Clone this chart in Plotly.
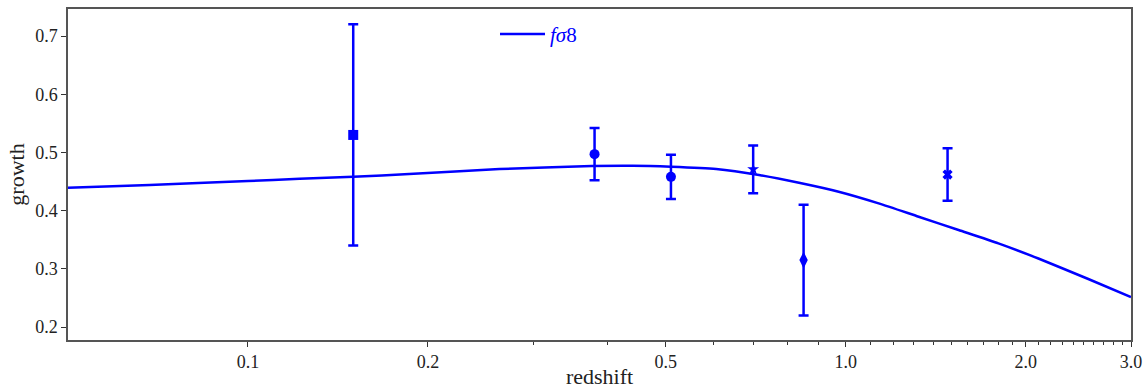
import plotly.graph_objects as go
import numpy as np

# theory curve
curve_z = [0.05, 0.0685, 0.10, 0.122, 0.15, 0.186, 0.2635, 0.376, 0.44, 0.51, 0.607, 0.716, 0.835, 0.973, 1.135, 1.324, 1.544, 1.80, 2.10, 2.545, 3.00]
curve_v = [0.4393, 0.4440, 0.4509, 0.4548, 0.4582, 0.4629, 0.4715, 0.4766, 0.4771, 0.4754, 0.4715, 0.4612, 0.4479, 0.4325, 0.4125, 0.3895, 0.3667, 0.3438, 0.3177, 0.2825, 0.2516]

# data points
pt_z = [0.15, 0.38, 0.51, 0.70, 0.85, 1.48]
pt_v = [0.530, 0.497, 0.458, 0.471, 0.315, 0.462]
pt_err = [0.19, 0.045, 0.038, 0.041, 0.095, 0.045]
pt_sym = ["square", "circle", "circle", "star", "diamond-tall", "x"]
pt_size = [10, 10, 10, 9, 12, 9]

xtick_vals = [0.1, 0.2, 0.5, 1.0, 2.0, 3.0]
xtick_text = ["0.1", "0.2", "0.5", "1.0", "2.0", "3.0"]
ytick_vals = [0.2, 0.3, 0.4, 0.5, 0.6, 0.7]
minor_vals = [0.3, 0.4, 0.6, 0.7, 0.8, 0.9, 1.1, 1.2, 1.3, 1.4, 1.5, 1.6, 1.7, 1.8, 1.9,
              2.1, 2.2, 2.3, 2.4, 2.5, 2.6, 2.7, 2.8, 2.9]

BLUE = "#0000ff"
FONT = "Liberation Serif"
TXT = "#222222"

fig = go.Figure()
fig.add_trace(go.Scatter(x=curve_z, y=curve_v, mode="lines",
                         line=dict(color=BLUE, width=2.5, shape="spline", smoothing=0.6),
                         name="<i>f\u03c3</i>8", showlegend=True))
for z, v, e, s, sz in zip(pt_z, pt_v, pt_err, pt_sym, pt_size):
    fig.add_trace(go.Scatter(x=[z], y=[v], mode="markers",
                             marker=dict(symbol=s, size=sz, color=BLUE, line=dict(width=0)),
                             error_y=dict(type="data", array=[e], color=BLUE, thickness=2.5, width=5),
                             showlegend=False))

fig.update_layout(
    width=1145, height=389,
    margin=dict(l=68, r=14, t=9, b=49),
    paper_bgcolor="white", plot_bgcolor="white",
    font=dict(family=FONT, size=18, color=TXT),
    showlegend=True,
    legend=dict(x=0.4017, y=0.985, xanchor="left", yanchor="top", bgcolor="rgba(0,0,0,0)",
                itemwidth=45,
                font=dict(family=FONT, size=21, color=BLUE)),
    xaxis=dict(type="log", range=[np.log10(0.05), np.log10(3.0)], automargin=False,
               tickvals=xtick_vals, ticktext=xtick_text, ticks="outside", ticklen=5, tickcolor="#333",
               tickfont=dict(family=FONT, size=18, color=TXT),
               showgrid=False, zeroline=False, showline=True, linecolor="#555", linewidth=1.5, mirror=True,
               minor=dict(tickvals=minor_vals, ticks="outside", ticklen=3, tickcolor="#333"),
               title=dict(text="redshift", font=dict(family=FONT, size=22, color=TXT), standoff=4)),
    yaxis=dict(range=[0.1777, 0.7464], tickvals=ytick_vals, tickformat=".1f", automargin=False,
               ticks="outside", ticklen=5, tickcolor="#333",
               tickfont=dict(family=FONT, size=18, color=TXT),
               showgrid=False, zeroline=False, showline=True, linecolor="#555", linewidth=1.5, mirror=True,
               title=dict(text="growth", font=dict(family=FONT, size=22, color=TXT), standoff=4)),
)

fig.write_html("out.html")
